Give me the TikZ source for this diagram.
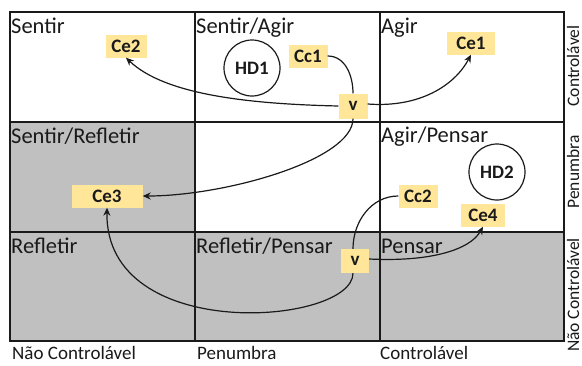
\documentclass[tikz,border=0pt]{standalone}
\usepackage{fontspec}
\setmainfont{Carlito}
\usetikzlibrary{arrows.meta}
\definecolor{boxyellow}{HTML}{FFE699}
\definecolor{cellgray}{HTML}{C0C0C0}
\definecolor{ink}{HTML}{1A1A1A}
\tikzset{
  celllabel/.style={anchor=base west, inner sep=0pt, text=ink, font=\fontsize{22.5}{26}\selectfont},
  axislabel/.style={anchor=base west, inner sep=0pt, text=ink, font=\fontsize{19}{22}\selectfont},
  sidelabel/.style={rotate=90, anchor=south, inner sep=0pt, text=ink, font=\fontsize{17.5}{21}\selectfont},
  tag/.style={fill=boxyellow, inner sep=0pt, minimum height=23pt, text=ink, font=\fontsize{19}{22}\selectfont\bfseries},
  hd/.style={draw=ink, line width=1.2pt, circle, minimum size=56pt, inner sep=0pt, text=ink, font=\fontsize{19}{22}\selectfont\bfseries},
  gridline/.style={draw=ink, line width=1.3pt},
  conn/.style={draw=ink, line width=1.2pt},
  arr/.style={conn, -{Stealth[length=8pt,width=7pt]}}
}
\begin{document}
\begin{tikzpicture}[x=1pt,y=-1pt]
\useasboundingbox (0,0) rectangle (582,365);
% shaded cells
\fill[cellgray] (10,122) rectangle (195,232);
\fill[cellgray] (10,232) rectangle (564,341);
% grid
\draw[gridline] (10,12) rectangle (564,341);
\draw[gridline] (195,12) -- (195,341);
\draw[gridline] (380,12) -- (380,341);
\draw[gridline] (10,122) -- (564,122);
\draw[gridline] (10,232) -- (564,232);
% cell labels
\node[celllabel] (l11) at (11,33) {Sentir};
\node[celllabel] (l12) at (196,33) {Sentir/Agir};
\node[celllabel] (l13) at (381,33) {Agir};
\node[celllabel] (l21) at (11,143) {Sentir/Refletir};
\node[celllabel] (l23) at (381,142) {Agir/Pensar};
\node[celllabel] (l31) at (11,253) {Refletir};
\node[celllabel] (l32) at (196,253) {Refletir/Pensar};
\node[celllabel] (l33) at (381,253) {Pensar};
% axis labels
\node[axislabel] (a1) at (12,359) {Não Controlável};
\node[axislabel] (a2) at (197,359) {Penumbra};
\node[axislabel] (a3) at (380,359) {Controlável};
\node[sidelabel] (s1) at (579.5,66) {Controlável};
\node[sidelabel] (s2) at (579.5,172) {Penumbra};
\node[sidelabel] (s3) at (579.5,295) {Não Controlável};
% circles
\node[hd] (hd1) at (252,68) {HD1};
\node[hd] (hd2) at (497,172) {HD2};
% tags
\node[tag, minimum width=41pt] (ce2) at (126,46) {Ce2};
\node[tag, minimum width=39pt] (cc1) at (308,56) {Cc1};
\node[tag, minimum width=29pt, minimum height=25pt] (v1) at (353,106) {v};
\node[tag, minimum width=48pt] (ce1) at (471,43) {Ce1};
\node[tag, minimum width=71pt] (ce3) at (107,196) {Ce3};
\node[tag, minimum width=39pt] (cc2) at (418,196) {Cc2};
\node[tag, minimum width=44pt] (ce4) at (483,215) {Ce4};
\node[tag, minimum width=28pt, minimum height=24pt] (v2) at (355,261) {v};
% connectors
\draw[conn] (cc1.east) to[out=0, in=90] (v1.north);
\draw[arr] (v1.west) .. controls (250,104) and (165,95) .. (ce2.south);
\draw[arr] ([yshift=2pt]v1.east) .. controls (420,108) and (455,85) .. (ce1.south);
\draw[arr] (v1.south) .. controls (353,160) and (225,196) .. (ce3.east);
\draw[conn] (cc2.west) to[out=180, in=90] ([xshift=-2pt]v2.north);
\draw[arr] ([xshift=-2pt]v2.south) .. controls (353,325) and (105,345) .. (ce3.south);
\draw[arr] ([yshift=2pt]v2.east) .. controls (430,262) and (470,250) .. (ce4.south);
\end{tikzpicture}
\end{document}
